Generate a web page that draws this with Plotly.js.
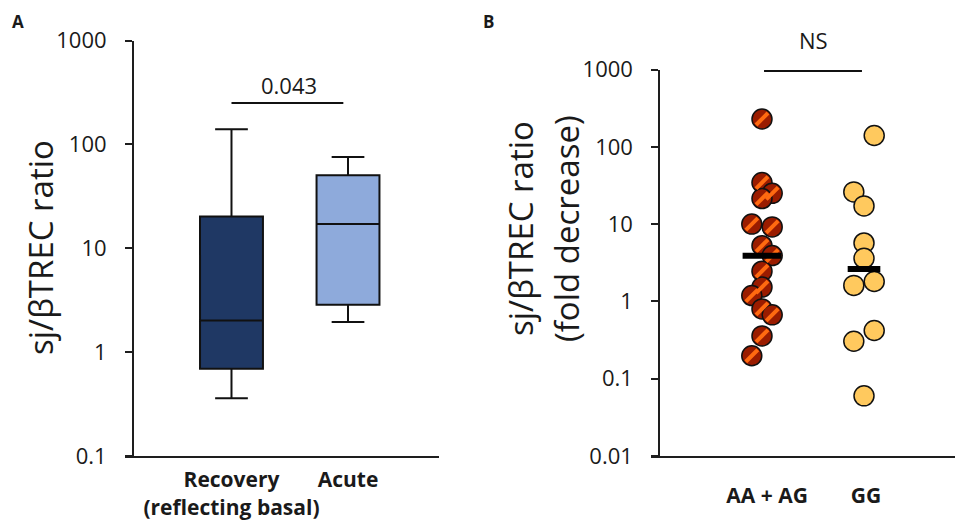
<!DOCTYPE html>
<html>
<head>
<meta charset="utf-8">
<script src="https://cdn.plot.ly/plotly-3.0.1.min.js"></script>
<style>html,body{margin:0;padding:0;background:#fff;}#plot{width:955px;height:528px;}</style>
</head>
<body>
<div id="plot"></div>
<script>
// ---------- Panel A data (box statistics) ----------
const boxCategories = ["Recovery<br>(reflecting basal)", "Acute"];
const boxLowerFence = [0.36, 1.95];
const boxQ1 = [0.69, 2.86];
const boxMedian = [2.02, 17.1];
const boxQ3 = [20.2, 50.4];
const boxUpperFence = [140, 75.4];
const pValueA = "0.043";
const sigBarA = 250;

// ---------- Panel B data ----------
const dotCategories = ["AA + AG", "GG"];
const aaValues = [229, 34.4, 25, 21.4, 10, 9.2, 5.26, 3.91, 2.46, 1.53, 1.19, 0.80, 0.67, 0.358, 0.198];
const aaSlot   = [0, 0, 1, 0, -1, 1, 0, 1, 0, 0, -1, 0, 1, 0, -1];
const ggValues = [140, 26.1, 17.2, 5.7, 3.61, 1.61, 1.81, 0.42, 0.305, 0.06];
const ggSlot   = [1, -1, 0, 0, 0, -1, 1, 1, -1, 0];
const centralValues = [3.9, 2.62];
const pValueB = "NS";
const sigBarB = 955;

const tickVals = [0.01, 0.1, 1, 10, 100, 1000];
const tickText = ["0.01", "0.1", "1", "10", "100", "1000"];

// ---------- styles ----------
const FONT = "Open Sans, Noto Sans, sans-serif";
const TXT = "#1a1a1a";
const AX = "#1e1e1e";
const slotStep = 0.1;

const traces = [];
const boxFill = ["#1F3864", "#8EAADB"];
for (let i = 0; i < boxCategories.length; i++) {
  traces.push({
    type: "box", xaxis: "x", yaxis: "y",
    x: [i], q1: [boxQ1[i]], median: [boxMedian[i]], q3: [boxQ3[i]],
    lowerfence: [boxLowerFence[i]], upperfence: [boxUpperFence[i]],
    width: 0.54, whiskerwidth: 0.52, boxpoints: false,
    fillcolor: boxFill[i], line: {color: "#111", width: 2},
    showlegend: false, hoverinfo: "skip"
  });
}
traces.push({
  type: "scatter", mode: "lines", xaxis: "x", yaxis: "y",
  x: [0, 0.96], y: [sigBarA, sigBarA], line: {color: "#111", width: 2},
  showlegend: false, hoverinfo: "skip", cliponaxis: false
});

const aaX = aaSlot.map(s => 0 + s * slotStep);
const ggX = ggSlot.map(s => 1 + s * slotStep);

traces.push({
  type: "scatter", mode: "markers", xaxis: "x2", yaxis: "y2",
  x: aaX, y: aaValues,
  marker: {size: 20, color: "#9A1C00", line: {color: "#111", width: 1.5}},
  showlegend: false, hoverinfo: "skip", cliponaxis: false
});
traces.push({
  type: "scatter", mode: "markers", xaxis: "x2", yaxis: "y2",
  x: aaX, y: aaValues,
  marker: {size: 12, symbol: "line-ne", color: "#FF6A10", line: {color: "#FF6A10", width: 4}},
  showlegend: false, hoverinfo: "skip", cliponaxis: false
});
traces.push({
  type: "scatter", mode: "markers", xaxis: "x2", yaxis: "y2",
  x: ggX, y: ggValues,
  marker: {size: 20, color: "#FFC95E", line: {color: "#111", width: 1.5}},
  showlegend: false, hoverinfo: "skip", cliponaxis: false
});
const barHalf = [0.19, 0.16];
for (let i = 0; i < centralValues.length; i++) {
  traces.push({
    type: "scatter", mode: "lines", xaxis: "x2", yaxis: "y2",
    x: [i - barHalf[i], i + barHalf[i]], y: [centralValues[i], centralValues[i]],
    line: {color: "#000", width: 6},
    showlegend: false, hoverinfo: "skip", cliponaxis: false
  });
}
traces.push({
  type: "scatter", mode: "lines", xaxis: "x2", yaxis: "y2",
  x: [0.02, 0.98], y: [sigBarB, sigBarB], line: {color: "#111", width: 2},
  showlegend: false, hoverinfo: "skip", cliponaxis: false
});

const yCommon = {
  type: "log", showline: true, linecolor: AX, linewidth: 2,
  ticks: "outside", ticklen: 7, tickwidth: 2, tickcolor: AX,
  showgrid: false, zeroline: false, anchor: "free",
  tickvals: tickVals, ticktext: tickText, ticklabelstandoff: 14,
  tickfont: {family: FONT, size: 22, color: TXT}
};
const xCommon = {
  showline: true, linecolor: AX, linewidth: 2, ticks: "",
  showgrid: false, zeroline: false, anchor: "y", tickangle: 0,
  tickfont: {family: FONT, size: 21, color: TXT, weight: "bold"}
};

function label(text, x, y, size, angle) {
  return {text: text, xref: "paper", yref: "paper", x: x / 955, y: 1 - y / 528,
          xanchor: "center", yanchor: "middle", textangle: angle || 0,
          showarrow: false, font: {family: FONT, size: size, color: TXT}};
}

const layout = {
  width: 955, height: 528,
  margin: {l: 0, r: 0, t: 0, b: 0},
  paper_bgcolor: "#fff", plot_bgcolor: "rgba(0,0,0,0)",
  xaxis: Object.assign({}, xCommon, {
    domain: [125/955, 439/955], range: [-0.914, 1.781],
    tickvals: [0, 1], ticktext: boxCategories, ticklabelstandoff: 4
  }),
  yaxis: Object.assign({}, yCommon, {
    domain: [72/528, 487.5/528], range: [-1, 3], position: 133/955
  }),
  xaxis2: Object.assign({}, xCommon, {
    domain: [651/955, 1], range: [-1.088, 1.892], anchor: "y2",
    tickvals: [0.05, 1.02], ticktext: dotCategories, ticklabelstandoff: 20
  }),
  yaxis2: Object.assign({}, yCommon, {
    domain: [72/528, 458.5/528], range: [-2, 3], position: 659.3/955
  }),
  annotations: [
    label("<b>A</b>", 18, 22, 17),
    label("<b>B</b>", 488, 21, 17),
    label("sj/βTREC ratio", 40, 248, 33, -90),
    label("sj/βTREC ratio", 520, 229, 33, -90),
    label("(fold decrease)", 566, 229, 33, -90),
    label(pValueA, 289, 85, 22),
    label(pValueB, 813, 40, 22)
  ]
};

Plotly.newPlot("plot", traces, layout, {staticPlot: true, displayModeBar: false});
</script>
</body>
</html>
